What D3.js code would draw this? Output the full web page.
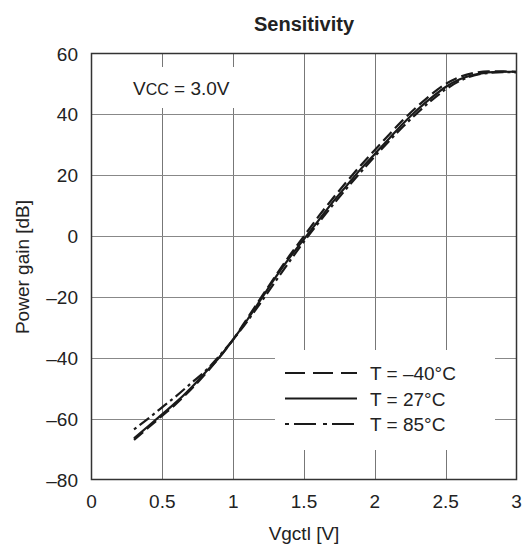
<!DOCTYPE html>
<html>
<head>
  <meta charset="utf-8">
  <title>Sensitivity</title>
  <style>
    body { margin: 0; background: #fff; }
    text { font-family: "Liberation Sans", Arial, sans-serif; fill: #222; }
  </style>
  <script src="https://cdn.jsdelivr.net/npm/d3@7"></script>
</head>
<body>
<div id="chart"></div>
<script>

var width = 528,
    height = 546;

// Vgctl [V]
var vgctl = [0.3, 0.4, 0.5, 0.6, 0.7, 0.8, 0.9, 1.0, 1.1, 1.2, 1.3, 1.4, 1.5, 1.6, 1.7,
             1.8, 1.9, 2.0, 2.1, 2.2, 2.3, 2.4, 2.5, 2.6, 2.7, 2.8, 2.9, 3.0];

// power gain [dB]
var gainM40 = [-67, -63, -59, -55, -50.5, -45.5, -40, -34, -27, -20, -13, -6.3, 0, 6.3, 12.2,
               17.8, 23.2, 28.3, 33.3, 38.2, 42.6, 46.6, 50, 52.3, 53.6, 54.1, 54.1, 54];
var gain27 = [-66.5, -62.5, -58.5, -54.5, -50, -45, -40, -34, -27.5, -20.5, -13.5, -7, -1, 5, 11,
              16.5, 22, 27, 32, 37, 41.5, 45.5, 49, 51.5, 53, 53.8, 54, 54];
var gain85 = [-63.5, -60, -56.2, -52.5, -48.5, -44.5, -39.5, -34, -28, -21.5, -14.8, -8.2, -1.8, 4.2, 10,
              15.6, 21, 26.2, 31.2, 36, 40.5, 44.6, 48.2, 51, 52.8, 53.6, 53.9, 53.8];

var xTicks = [0, 0.5, 1, 1.5, 2, 2.5, 3];
var yTicks = [-80, -60, -40, -20, 0, 20, 40, 60];

var seriesNames = ["T = \u201340\u00b0C", "T = 27\u00b0C", "T = 85\u00b0C"];
var seriesGain = [gainM40, gain27, gain85];
var curveDash = ["12,5", null, "3,4,12,4"];
var legendDash = ["20,8", null, "4,5,22,7"];

var x = d3.scaleLinear().domain([0, 3]).range([91.5, 516.5]);
var y = d3.scaleLinear().domain([-80, 60]).range([479.5, 53.5]);

var svg = d3.select("#chart").append("svg")
    .attr("width", width)
    .attr("height", height);

// grid
svg.append("g")
  .selectAll("line")
  .data(xTicks.slice(1, -1))
  .enter().append("line")
    .attr("x1", function(d) { return Math.round(x(d)) + 0.5; })
    .attr("x2", function(d) { return Math.round(x(d)) + 0.5; })
    .attr("y1", y(-80))
    .attr("y2", y(60))
    .attr("stroke", "#777")
    .attr("stroke-width", 1);

svg.append("g")
  .selectAll("line")
  .data(yTicks.slice(1, -1))
  .enter().append("line")
    .attr("x1", x(0))
    .attr("x2", x(3))
    .attr("y1", function(d) { return Math.round(y(d)) + 0.5; })
    .attr("y2", function(d) { return Math.round(y(d)) + 0.5; })
    .attr("stroke", "#888")
    .attr("stroke-width", 1);

// white patches behind the note and the legend
svg.append("rect").attr("x", 125).attr("y", 67).attr("width", 116).attr("height", 41).attr("fill", "#fff");
svg.append("rect").attr("x", 275).attr("y", 350).attr("width", 220).attr("height", 100).attr("fill", "#fff");

// curves
var line = d3.line()
    .x(function(d) { return x(d[0]); })
    .y(function(d) { return y(d[1]); })
    .curve(d3.curveMonotoneX);

seriesGain.forEach(function(g, i) {
  svg.append("path")
    .datum(vgctl.map(function(v, j) { return [v, g[j]]; }))
    .attr("d", line)
    .attr("fill", "none")
    .attr("stroke", "#1a1a1a")
    .attr("stroke-width", 2.2)
    .attr("stroke-dasharray", curveDash[i]);
});

// frame
svg.append("rect")
  .attr("x", x(0)).attr("y", y(60))
  .attr("width", x(3) - x(0)).attr("height", y(-80) - y(60))
  .attr("fill", "none")
  .attr("stroke", "#333")
  .attr("stroke-width", 1.5);

// tick labels
svg.append("g")
  .selectAll("text")
  .data(xTicks)
  .enter().append("text")
    .attr("x", function(d) { return x(d); })
    .attr("y", 508)
    .attr("text-anchor", "middle")
    .style("font-size", "19px")
    .text(function(d) { return d; });

svg.append("g")
  .selectAll("text")
  .data(yTicks)
  .enter().append("text")
    .attr("x", 78)
    .attr("y", function(d) { return y(d) + 7; })
    .attr("text-anchor", "end")
    .style("font-size", "19px")
    .text(function(d) { return d < 0 ? "\u2013" + Math.abs(d) : d; });

// titles
svg.append("text")
  .attr("x", 304).attr("y", 31)
  .attr("text-anchor", "middle")
  .style("font-size", "20px")
  .style("font-weight", "bold")
  .text("Sensitivity");

svg.append("text")
  .attr("x", 304).attr("y", 540)
  .attr("text-anchor", "middle")
  .style("font-size", "19px")
  .text("Vgctl [V]");

svg.append("text")
  .attr("transform", "translate(29,267) rotate(-90)")
  .attr("text-anchor", "middle")
  .style("font-size", "19px")
  .text("Power gain [dB]");

var note = svg.append("text")
  .attr("x", 133).attr("y", 95)
  .style("font-size", "19px");
note.append("tspan").text("V");
note.append("tspan").style("font-size", "16px").text("CC");
note.append("tspan").text(" = 3.0V");

// legend
var legend = svg.append("g")
  .selectAll("g")
  .data(seriesNames)
  .enter().append("g")
    .attr("transform", function(d, i) { return "translate(0," + (373 + i * 25.5) + ")"; });

legend.append("line")
  .attr("x1", 285).attr("x2", 357)
  .attr("y1", 0).attr("y2", 0)
  .attr("stroke", "#1a1a1a")
  .attr("stroke-width", 2.2)
  .attr("stroke-dasharray", function(d, i) { return legendDash[i]; });

legend.append("text")
  .attr("x", 370)
  .attr("y", 7)
  .style("font-size", "19px")
  .text(function(d) { return d; });

</script>
</body>
</html>
